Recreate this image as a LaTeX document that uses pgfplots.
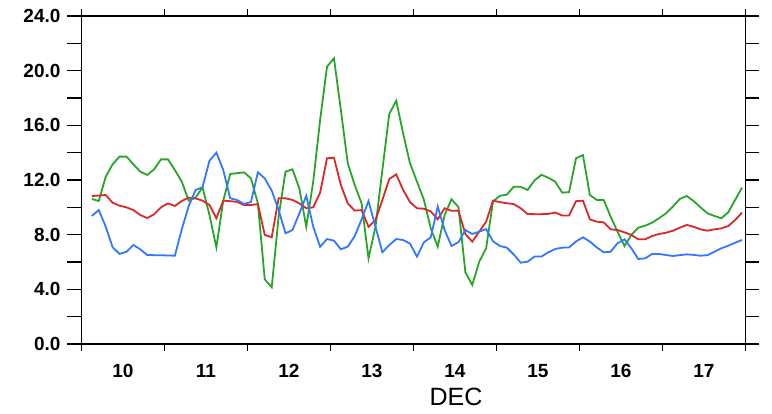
\documentclass[border=0pt]{standalone}
\usepackage{fontspec}
\setmainfont{Liberation Sans}
\usepackage{pgfplots}
\usepackage{pgfplotstable}
\pgfplotsset{compat=1.18}

\definecolor{tsred}{RGB}{218,40,40}
\definecolor{tsgreen}{RGB}{40,165,40}
\definecolor{tsblue}{RGB}{50,120,255}

% x in days from 10 Dec 00h, one row every 2 h
\pgfplotstableread{
x     red    green  blue
0.125 10.83  10.61  9.37
0.208 10.86  10.46  9.80
0.292 10.90  12.24  8.58
0.375 10.34  13.15  7.08
0.458 10.12  13.71  6.59
0.542 10.00  13.71  6.75
0.625 9.80   13.15  7.24
0.708 9.44   12.61  6.93
0.792 9.22   12.37  6.51
0.875 9.49   12.78  6.50
0.958 10.00  13.51  6.49
1.042 10.29  13.51  6.48
1.125 10.10  12.73  6.46
1.208 10.46  11.88  8.39
1.292 10.71  10.49  10.10
1.375 10.65  10.71  11.27
1.458 10.49  11.47  11.47
1.542 10.17  9.44   13.41
1.625 9.20   7.07   14.00
1.708 10.49  10.49  12.73
1.792 10.45  12.44  10.66
1.875 10.40  12.50  10.54
1.958 10.17  12.56  10.24
2.042 10.17  12.12  10.40
2.125 10.24  10.29  12.56
2.208 7.98   4.73   12.12
2.292 7.81   4.15   11.22
2.375 10.66  9.32   9.80
2.458 10.66  12.61  8.10
2.542 10.54  12.78  8.34
2.625 10.29  11.39  9.56
2.708 9.93   8.58   10.85
2.792 10.00  11.88  8.58
2.875 11.07  16.39  7.12
2.958 13.59  20.29  7.68
3.042 13.63  20.90  7.56
3.125 11.63  17.12  6.93
3.208 10.29  13.22  7.12
3.292 9.76   11.63  7.90
3.375 9.80   10.29  9.12
3.458 8.58   6.27   10.46
3.542 9.07   8.58   8.58
3.625 10.54  12.73  6.71
3.708 12.07  16.83  7.24
3.792 12.41  17.80  7.68
3.875 11.27  15.41  7.61
3.958 10.38  13.22  7.35
4.042 9.93   11.88  6.39
4.125 9.90   10.56  7.44
4.208 9.70   8.46   7.81
4.292 9.12   7.12   10.05
4.375 9.93   9.44   8.34
4.458 9.75   10.59  7.17
4.542 9.76   10.02  7.45
4.625 8.05   5.25   8.34
4.708 7.49   4.32   8.05
4.792 8.22   6.02   8.22
4.875 8.95   7.00   8.41
4.958 10.49  10.44  7.52
5.042 10.38  10.84  7.17
5.125 10.30  10.93  7.05
5.208 10.24  11.51  6.55
5.292 9.93   11.50  5.95
5.375 9.51   11.27  6.02
5.458 9.50   11.97  6.40
5.542 9.50   12.38  6.40
5.625 9.52   12.16  6.71
5.708 9.62   11.88  6.95
5.792 9.40   11.07  7.05
5.875 9.40   11.12  7.07
5.958 10.45  13.59  7.50
6.042 10.49  13.82  7.81
6.125 9.12   10.90  7.49
6.208 8.95   10.54  7.07
6.292 8.90   10.54  6.71
6.375 8.39   9.32   6.75
6.458 8.34   8.22   7.37
6.542 8.17   7.17   7.66
6.625 7.98   7.98   7.00
6.708 7.66   8.51   6.22
6.792 7.66   8.66   6.27
6.875 7.90   8.88   6.59
6.958 8.05   9.20   6.59
7.042 8.14   9.56   6.51
7.125 8.29   10.05  6.44
7.208 8.51   10.61  6.50
7.292 8.71   10.83  6.56
7.375 8.58   10.46  6.52
7.458 8.39   10.00  6.46
7.542 8.29   9.56   6.50
7.625 8.39   9.37   6.75
7.708 8.46   9.20   7.00
7.792 8.63   9.63   7.19
7.875 9.07   10.54  7.41
7.958 9.61   11.44  7.61
}\series

\pgfplotsset{
  frame/.style={
    scale only axis, width=332pt, height=164pt,
    xmin=0, xmax=8, ymin=0, ymax=24,
    axis line style={line width=0.8pt},
    tick align=outside,
    tick style={black, line width=0.8pt},
    /pgf/number format/assume math mode=true,
    tick label style={font=\fontsize{9.5}{10}\selectfont\bfseries},
  }
}

\begin{document}
\begin{tikzpicture}
\useasboundingbox (-40.75pt,-34.5pt) rectangle (345.25pt,172pt);
% y ticks (long, on both sides)
\begin{axis}[frame,
  xtick=\empty,
  ytick={0,4,...,24}, minor ytick={2,6,...,22},
  major tick length=7pt, minor tick length=7pt,
  yticklabel style={/pgf/number format/fixed,
    /pgf/number format/fixed zerofill, /pgf/number format/precision=1},
]
\addplot[draw=none] coordinates {(0,0)};
\end{axis}
% x ticks (short, at day boundaries) and the data
\begin{axis}[frame,
  ytick=\empty,
  xtick={0.5,1.5,...,7.5}, xticklabels={10,11,12,13,14,15,16,17},
  minor xtick={0,...,8},
  major tick length=3.5pt, minor tick length=3.5pt,
  major tick style={draw=none},
  xticklabel style={yshift=-3pt},
  xlabel={DEC},
  xlabel style={at={(axis description cs:0.564,0)}, anchor=center,
    yshift=-26.5pt, font=\fontsize{12.5}{13}\selectfont},
]
\addplot[tsgreen, line width=0.9pt] table[x=x, y=green] {\series};
\addplot[tsred, line width=0.9pt] table[x=x, y=red] {\series};
\addplot[tsblue, line width=0.9pt] table[x=x, y=blue] {\series};
\end{axis}
\end{tikzpicture}
\end{document}
